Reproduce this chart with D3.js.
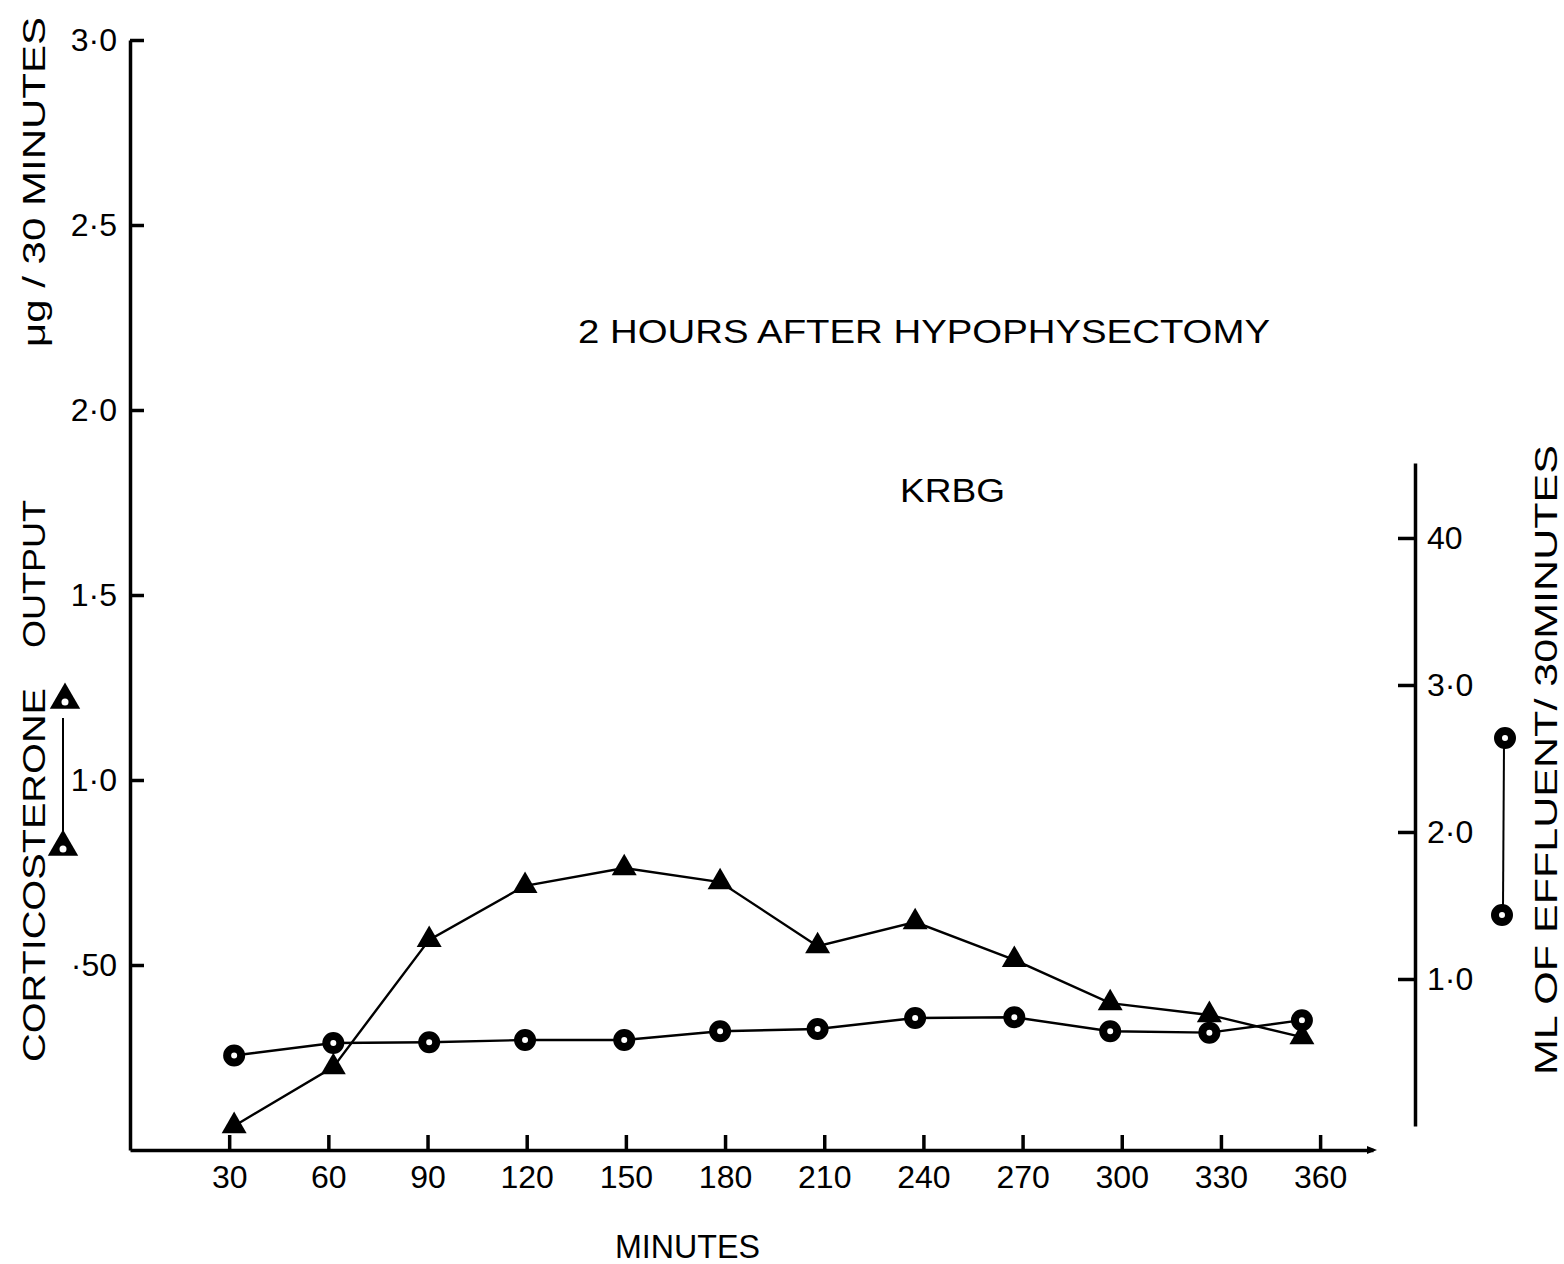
<!DOCTYPE html>
<html lang="en">
<head>
    <meta charset="UTF-8">
    <title>Corticosterone output, KRBG</title>
    <script src="https://cdn.jsdelivr.net/npm/d3@7/dist/d3.min.js"></script>
    <style>
        body { margin: 0; background: #fff; }
        svg text { font-family: "Liberation Sans", Arial, sans-serif; fill: #000; }
    </style>
</head>
<body>
    <div class="chart"></div>
<script>
    // sampling times as plotted (minutes)
    const sampleMinutes = [31.5, 61.5, 90.5, 119.5, 149.5, 178.5, 208, 237.5, 267.5, 296.5, 326.5, 354.5]
    // corticosterone output, ug / 30 min (triangles, left axis)
    const corticosterone = [0.065, 0.224, 0.568, 0.714, 0.762, 0.724, 0.551, 0.616, 0.514, 0.397, 0.365, 0.305]
    // ml of effluent / 30 min (circles, right axis)
    const effluent = [0.48, 0.565, 0.57, 0.585, 0.585, 0.645, 0.66, 0.735, 0.74, 0.645, 0.635, 0.72]

    const xTicks = [30, 60, 90, 120, 150, 180, 210, 240, 270, 300, 330, 360]
    const leftTicks = [3.0, 2.5, 2.0, 1.5, 1.0, 0.5]
    const leftTickLabels = ['3·0', '2·5', '2·0', '1·5', '1·0', '·50']
    const rightTicks = [4, 3, 2, 1]
    const rightTickLabels = ['40', '3·0', '2·0', '1·0']

    const width = 1564
    const height = 1264

    const xScale = d3.scaleLinear().domain([0, 376]).range([130, 1373])
    const yLeft = d3.scaleLinear().domain([0, 3]).range([1150, 40])
    const yRight = d3.scaleLinear().domain([0, 4.51]).range([1126, 463])

    const svg = d3.select('.chart')
        .append('svg')
        .attr('width', width)
        .attr('height', height)

    function styleAxis(g, fontSize) {
        g.select('.domain').attr('stroke-width', 3.5)
        g.selectAll('.tick line').attr('stroke-width', 3.5)
        g.selectAll('.tick text')
            .attr('font-size', fontSize)
            .attr('font-family', '"Liberation Sans", Arial, sans-serif')
    }

    // axes
    const gLeft = svg.append('g')
        .attr('transform', `translate(${xScale(0)}, 0)`)
        .call(d3.axisLeft(yLeft)
            .tickValues(leftTicks)
            .tickFormat((d, i) => leftTickLabels[i])
            .tickSizeInner(-14)
            .tickSizeOuter(0)
            .tickPadding(13))
    styleAxis(gLeft, 32)

    const gRight = svg.append('g')
        .attr('transform', 'translate(1415, 0)')
        .call(d3.axisRight(yRight)
            .tickValues(rightTicks)
            .tickFormat((d, i) => rightTickLabels[i])
            .tickSizeInner(-17)
            .tickSizeOuter(0)
            .tickPadding(12))
    styleAxis(gRight, 32)

    const gBottom = svg.append('g')
        .attr('transform', `translate(0, ${yLeft(0)})`)
        .call(d3.axisBottom(xScale)
            .tickValues(xTicks)
            .tickSizeInner(-15)
            .tickSizeOuter(0)
            .tickPadding(15))
    styleAxis(gBottom, 32)

    // small arrow head at the end of the time axis
    const xEnd = xScale.range()[1]
    svg.append('path')
        .attr('d', `M${xEnd + 4},${yLeft(0)} L${xEnd - 6},${yLeft(0) - 4} L${xEnd - 6},${yLeft(0) + 4} Z`)
        .attr('fill', '#000')

    // lines
    const points = sampleMinutes.map((m, i) => ({ m, c: corticosterone[i], e: effluent[i] }))

    const lineC = d3.line().x(d => xScale(d.m)).y(d => yLeft(d.c))
    const lineE = d3.line().x(d => xScale(d.m)).y(d => yRight(d.e))

    svg.append('path')
        .attr('d', lineE(points))
        .attr('fill', 'none')
        .attr('stroke', '#000')
        .attr('stroke-width', 2.4)

    svg.append('path')
        .attr('d', lineC(points))
        .attr('fill', 'none')
        .attr('stroke', '#000')
        .attr('stroke-width', 2.4)

    const tri = d3.symbol().type(d3.symbolTriangle).size(270)
    const triBig = d3.symbol().type(d3.symbolTriangle).size(400)

    svg.selectAll('.circ')
        .data(points)
        .enter()
        .append('circle')
        .attr('class', 'circ')
        .attr('cx', d => xScale(d.m))
        .attr('cy', d => yRight(d.e))
        .attr('r', 7)
        .attr('fill', '#fff')
        .attr('stroke', '#000')
        .attr('stroke-width', 8)

    svg.selectAll('.tri')
        .data(points)
        .enter()
        .append('path')
        .attr('class', 'tri')
        .attr('transform', d => `translate(${xScale(d.m)}, ${yLeft(d.c)})`)
        .attr('d', tri)
        .attr('fill', '#000')

    // key: triangles on the left
    svg.append('line')
        .attr('x1', 63).attr('x2', 63)
        .attr('y1', 718).attr('y2', 832)
        .attr('stroke', '#000').attr('stroke-width', 2)
    ;[[65, 700], [63, 847]].forEach(p => {
        svg.append('path')
            .attr('transform', `translate(${p[0]}, ${p[1]})`)
            .attr('d', triBig)
            .attr('fill', '#000')
        svg.append('circle')
            .attr('cx', p[0]).attr('cy', p[1] + 2)
            .attr('r', 3.5).attr('fill', '#fff')
    })

    // key: circles on the right
    svg.append('line')
        .attr('x1', 1504).attr('x2', 1503)
        .attr('y1', 745).attr('y2', 908)
        .attr('stroke', '#000').attr('stroke-width', 2)
    ;[[1505, 738], [1502, 915]].forEach(p => {
        svg.append('circle')
            .attr('cx', p[0]).attr('cy', p[1])
            .attr('r', 7)
            .attr('fill', '#fff')
            .attr('stroke', '#000')
            .attr('stroke-width', 8)
    })

    // labels
    function vText(x, yc, len, str, size) {
        svg.append('text')
            .attr('transform', `translate(${x}, ${yc}) rotate(-90)`)
            .attr('text-anchor', 'middle')
            .attr('font-size', size)
            .attr('textLength', len)
            .attr('lengthAdjust', 'spacingAndGlyphs')
            .text(str)
    }
    vText(45, 875, 374, 'CORTICOSTERONE', 32)
    vText(45, 574, 148, 'OUTPUT', 32)
    vText(45, 182, 330, 'μg / 30 MINUTES', 32)
    vText(1557, 760, 630, 'ML OF EFFLUENT/ 30MINUTES', 32)

    svg.append('text')
        .attr('x', 578).attr('y', 343)
        .attr('font-size', 34)
        .attr('textLength', 692)
        .attr('lengthAdjust', 'spacingAndGlyphs')
        .text('2 HOURS AFTER HYPOPHYSECTOMY')

    svg.append('text')
        .attr('x', 900).attr('y', 502)
        .attr('font-size', 34)
        .attr('textLength', 105)
        .attr('lengthAdjust', 'spacingAndGlyphs')
        .text('KRBG')

    svg.append('text')
        .attr('x', 615).attr('y', 1258)
        .attr('font-size', 34)
        .attr('textLength', 145)
        .attr('lengthAdjust', 'spacingAndGlyphs')
        .text('MINUTES')
</script>
</body>
</html>
